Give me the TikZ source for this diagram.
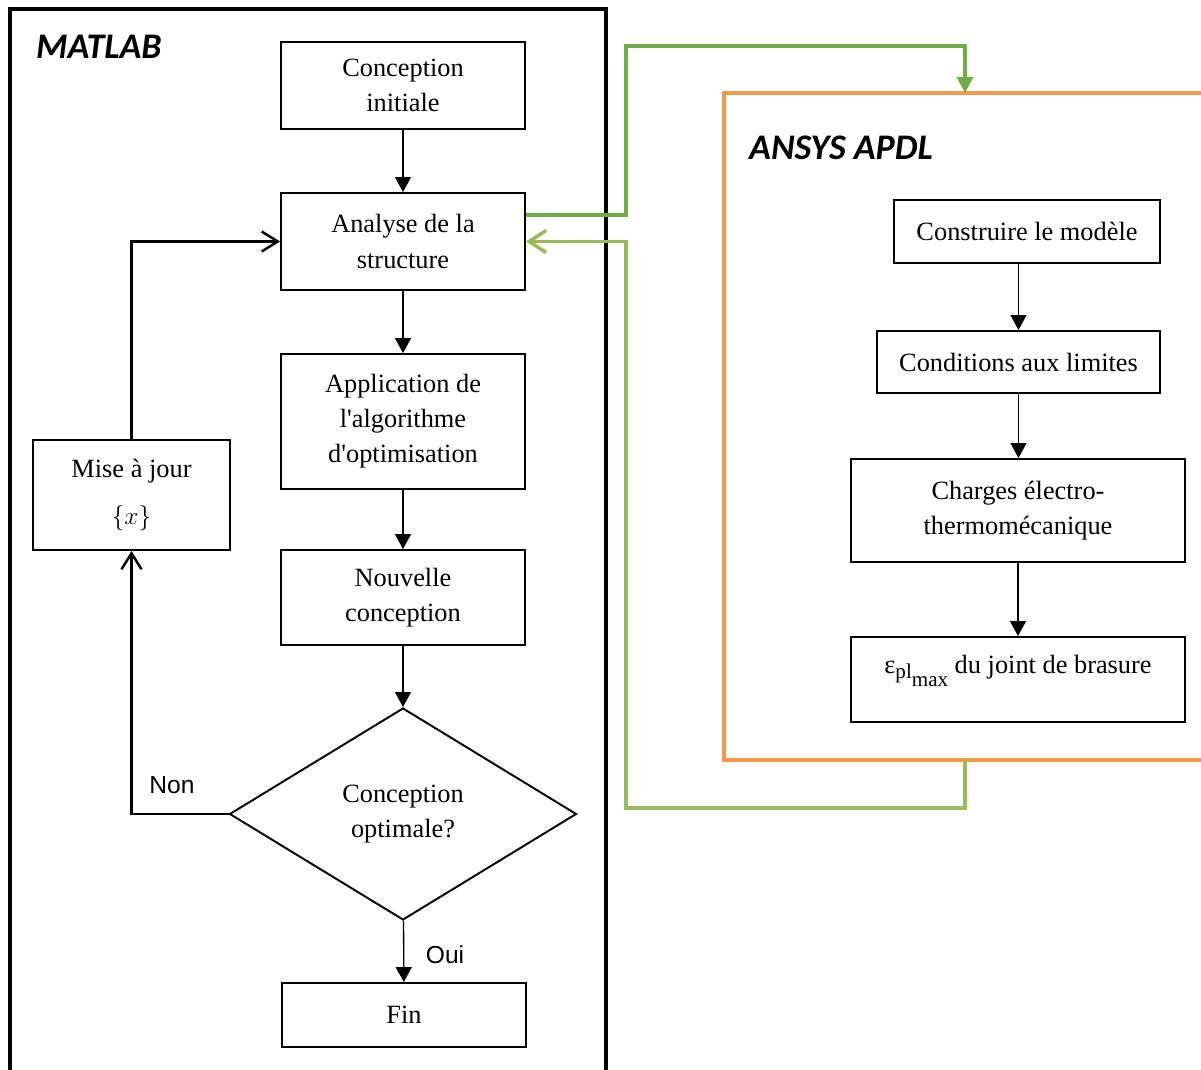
\documentclass[tikz,border=0pt]{standalone}
\usepackage{fontspec}
\setmainfont{Liberation Serif}[Ligatures=TeXOff]
\newfontfamily\calibrifont{Carlito}
\newfontfamily\labelfont{Liberation Sans}
\usepackage{tikz}
\usetikzlibrary{arrows.meta,positioning,shapes.geometric,calc}
\definecolor{ansysorange}{RGB}{247,150,70}
\definecolor{linkgreen}{RGB}{112,173,71}
\definecolor{backgreen}{RGB}{155,187,89}
\tikzset{
  stepbox/.style={draw=black,line width=1.1pt,fill=white,minimum width=4.88cm,minimum height=1.8cm,align=center,inner sep=2pt,font=\fontsize{15}{20}\selectfont},
  decision/.style={diamond,draw=black,line width=1.1pt,minimum width=6.94cm,minimum height=4.24cm,inner sep=0pt,align=center,font=\fontsize{15}{20}\selectfont},
  frame/.style={line width=2pt},
  tool/.style={anchor=west,font=\calibrifont\bfseries\itshape\fontsize{20.5}{24}\selectfont},
  lbl/.style={font=\labelfont\fontsize{14}{16}\selectfont},
  arr/.style={-{Triangle[length=3mm,width=3.2mm]},line width=0.75pt},
  loop/.style={-{Straight Barb[length=3.2mm,width=4mm]},line width=1.4pt},
  link/.style={-{Triangle[length=3.2mm,width=3.2mm]},draw=linkgreen,line width=2pt},
  back/.style={-{Straight Barb[length=3.4mm,width=4.4mm]},draw=backgreen,line width=2pt}
}

\begin{document}
\begin{tikzpicture}[x=0.02cm,y=-0.02cm]
  \useasboundingbox (0,0) rectangle (1201,1070);

  % MATLAB side
  \draw[frame] (10,1085) -- (10,9) -- (606,9) -- (606,1085);
  \node[tool] (matlab) at (30,47) {MATLAB};

  \node[stepbox,minimum height=1.74cm] (init) at (403,85.5) {Conception\\initiale};
  \node[stepbox,minimum height=1.94cm] (ana) at (403,241.5) {Analyse de la\\structure};
  \node[stepbox,minimum height=2.7cm] (algo) at (403,421.5) {Application de\\l'algorithme\\d'optimisation};
  \node[stepbox,minimum height=1.9cm] (nouv) at (403,597.5) {Nouvelle\\conception};
  \node[decision] (opt) at (403,814) {Conception\\optimale?};
  \node[stepbox,minimum height=1.28cm] (fin) at (404,1015) {Fin};
  \node[stepbox,minimum width=3.94cm,minimum height=2.2cm] (maj) at (131.5,495) {Mise à jour\\[7pt]$\{x\}$};

  \draw[arr] (init) -- (ana);
  \draw[arr] (ana) -- (algo);
  \draw[arr] (algo) -- (nouv);
  \draw[arr] (nouv) -- (opt);
  \draw[arr] (opt) -- (fin);
  \draw[loop] (opt.west) -| (maj.south);
  \draw[loop] (maj.north) |- (ana.west);
  \node[lbl] (non) at (172,785) {Non};
  \node[lbl] (oui) at (445,955) {Oui};

  % ANSYS side
  \draw[frame,draw=ansysorange,line width=2.2pt] (1215,93) -- (724,93) -- (724,760) -- (1215,760);
  \coordinate (apdlin) at (965,93);
  \coordinate (apdlout) at (965,760);
  \node[tool] (apdl) at (743,148) {ANSYS APDL};

  \node[stepbox,minimum width=5.32cm,minimum height=1.26cm] (model) at (1027,231.5) {Construire le modèle};
  \node[stepbox,minimum width=5.66cm,minimum height=1.24cm] (limits) at (1018.5,362) {Conditions aux limites};
  \node[stepbox,minimum width=6.68cm,minimum height=2.06cm] (loads) at (1018,510.5) {Charges électro-\\thermomécanique};
  \node[stepbox,minimum width=6.68cm,minimum height=1.7cm] (strain) at (1018,679.5)
    {ε\raisebox{-0.45ex}{\fontsize{12}{12}\selectfont pl}\raisebox{-1.1ex}{\fontsize{12}{12}\selectfont max} du joint de brasure\\[-11pt]\strut};

  \draw[arr] (limits.north |- model.south) -- (limits.north);
  \draw[arr] (limits.south) -- (limits.south |- loads.north);
  \draw[arr] (loads) -- (strain);

  % exchange between the two tools
  \draw[link] ($(ana.east)+(0,-26.5)$) -- ++(100,0) |- ($(apdlin)+(0,-47)$) -- (apdlin);
  \draw[back] (apdlout) -- ++(0,48) -| ($(ana.east)+(100,0)$) -- (ana.east);
\end{tikzpicture}
\end{document}
